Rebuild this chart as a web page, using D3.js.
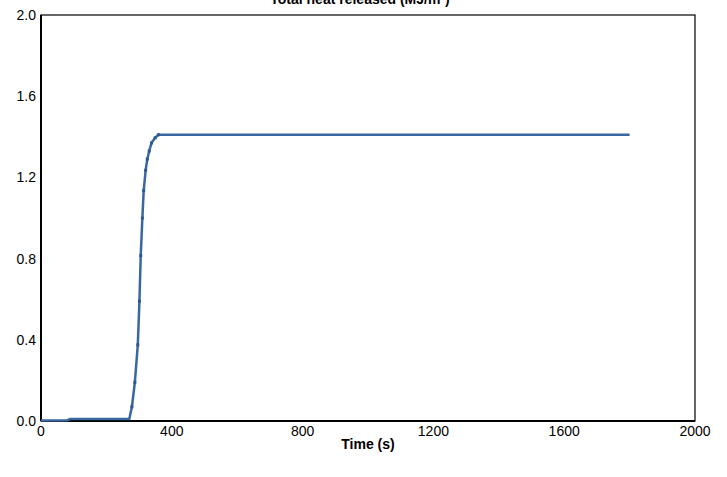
<!DOCTYPE html>
<html><head><meta charset="utf-8">
<script src="https://cdn.jsdelivr.net/npm/d3@7"></script>
<style>body{margin:0;background:#fff}text{font-family:"Liberation Sans",Arial,sans-serif}</style>
</head><body><svg width="727" height="477"></svg>
<script>
// time (s) and total heat released (MJ/m2)
var times  = [0, 80, 90, 270, 278, 287, 296, 301, 305, 310, 314, 320, 325, 331, 338, 349, 359, 1800];
var values = [0.003, 0.004, 0.01, 0.01, 0.07, 0.19, 0.375, 0.59, 0.815, 1.0, 1.135, 1.235, 1.29, 1.33, 1.37, 1.395, 1.41, 1.41];
var xTicks = [0, 400, 800, 1200, 1600, 2000];
var yTicks = [0, 0.4, 0.8, 1.2, 1.6, 2.0];

var svg = d3.select("svg");
var x = d3.scaleLinear().domain([0, 2000]).range([41, 695]);
var y = d3.scaleLinear().domain([0, 2]).range([421, 15]);
var pts = times.map(function(t, i){ return [t, values[i]]; });

svg.append("rect").attr("x", 41).attr("y", 15).attr("width", 654).attr("height", 406)
  .attr("fill", "none").attr("stroke", "#000").attr("stroke-width", 1.2);
svg.append("line").attr("x1", 41).attr("x2", 41).attr("y1", 15).attr("y2", 421).attr("stroke", "#000").attr("stroke-width", 2);
svg.append("line").attr("x1", 41).attr("x2", 695).attr("y1", 421).attr("y2", 421).attr("stroke", "#000").attr("stroke-width", 2);

svg.selectAll("text.xt").data(xTicks).enter().append("text")
  .attr("x", function(d){ return x(d); }).attr("y", 436)
  .attr("text-anchor", "middle").attr("font-size", 14).text(function(d){ return d; });
svg.selectAll("text.yt").data(yTicks).enter().append("text")
  .attr("x", 36).attr("y", function(d){ return y(d) + 5; })
  .attr("text-anchor", "end").attr("font-size", 14).text(function(d){ return d.toFixed(1); });

svg.append("path").datum(pts)
  .attr("d", d3.line().x(function(d){ return x(d[0]); }).y(function(d){ return y(d[1]); }))
  .attr("fill", "none").attr("stroke", "#3a66a1").attr("stroke-width", 2.5);
svg.selectAll("rect.m").data(pts.slice(4, 17)).enter().append("rect")
  .attr("x", function(d){ return x(d[0]) - 1.5; }).attr("y", function(d){ return y(d[1]) - 1.5; })
  .attr("width", 3).attr("height", 3).attr("fill", "#2d5a92");

svg.append("text").attr("x", 360).attr("y", 4).attr("text-anchor", "middle")
  .attr("font-size", 14).attr("font-weight", "bold").text("Total heat released (MJ/m²)");
svg.append("text").attr("x", 368).attr("y", 449).attr("text-anchor", "middle")
  .attr("font-size", 14).attr("font-weight", "bold").text("Time (s)");
</script></body></html>
